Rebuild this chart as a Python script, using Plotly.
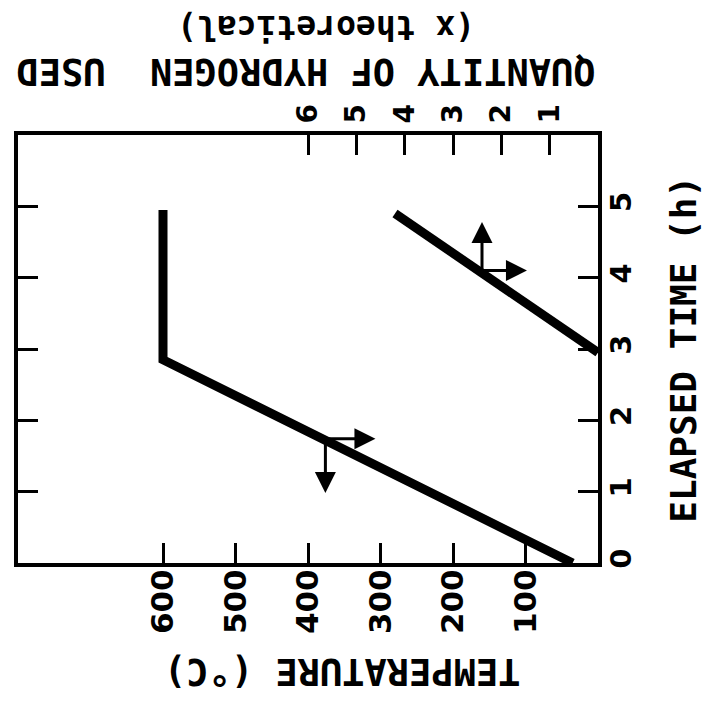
import plotly.graph_objects as go

# Reactor heat-up schedule: temperature and cumulative hydrogen use vs elapsed time
time_temp = [0.0, 2.85, 4.95]      # h
temperature = [35, 600, 600]       # deg C

time_h2 = [2.95, 4.9]              # h
hydrogen_used = [0.0, 4.2]         # x theoretical

temp_ticks = [100, 200, 300, 400, 500, 600]
h2_ticks = [1, 2, 3, 4, 5, 6]
time_ticks = [0, 1, 2, 3, 4, 5]

BLACK = "black"
TICK_FONT = dict(family="DejaVu Sans", size=31, color=BLACK, weight="bold")
TITLE_FONT = dict(family="DejaVu Sans Mono", size=37, color=BLACK, weight="bold")

fig = go.Figure()

fig.add_trace(go.Scatter(
    x=temperature, y=time_temp, xaxis="x", yaxis="y",
    mode="lines", line=dict(color=BLACK, width=9), hoverinfo="skip",
))
fig.add_trace(go.Scatter(
    x=hydrogen_used, y=time_h2, xaxis="x2", yaxis="y",
    mode="lines", line=dict(color=BLACK, width=9), hoverinfo="skip",
))

axis_common = dict(
    showgrid=False, zeroline=False, showline=True, linewidth=4, linecolor=BLACK,
    ticks="inside", ticklen=20, tickwidth=3, tickcolor=BLACK, tickangle=-90,
)

fig.update_layout(
    width=706, height=705, autosize=False,
    margin=dict(l=18, r=108, t=135, b=142, pad=0),
    plot_bgcolor="white", paper_bgcolor="white", showlegend=False,
    xaxis=dict(
        range=[800, 0], tickvals=temp_ticks, ticktext=[str(v) for v in temp_ticks],
        mirror=True, tickfont=TICK_FONT, ticklabelstandoff=-10, **axis_common,
    ),
    xaxis2=dict(
        range=[12, 0], tickvals=h2_ticks, ticktext=[str(v) for v in h2_ticks],
        overlaying="x", side="top", anchor="y",
        tickfont=dict(TICK_FONT, size=28), ticklabelstandoff=2, **axis_common,
    ),
    yaxis=dict(
        range=[0, 6], tickvals=time_ticks, ticktext=[str(v) for v in time_ticks],
        side="right", mirror="ticks", tickfont=dict(TICK_FONT, size=29),
        ticklabelstandoff=-6, **axis_common,
    ),
)

# Axis titles, set in the same rotated frame as the plot
title_pos = dict(xref="paper", yref="paper", xanchor="center", yanchor="middle",
                 showarrow=False)
fig.add_annotation(text="ELAPSED TIME (h)", x=1.146, y=0.5, textangle=-90,
                   font=dict(TITLE_FONT, size=36), **title_pos)
fig.add_annotation(text="TEMPERATURE (°C)", x=0.559, y=-0.255, textangle=180,
                   font=TITLE_FONT, **title_pos)
fig.add_annotation(text="QUANTITY OF HYDROGEN\u00a0\u00a0USED", x=0.497, y=1.150,
                   textangle=180, font=TITLE_FONT, **title_pos)
fig.add_annotation(text="(x theoretical)", x=0.532, y=1.250, textangle=180,
                   font=dict(TITLE_FONT, size=33), **title_pos)

# Arrows pointing each curve to its own axis
arrow_style = dict(showarrow=True, arrowhead=2, arrowsize=1.4, arrowwidth=3,
                   arrowcolor=BLACK, text="")
temp_origin = (376, 1.742)
fig.add_annotation(x=376, y=0.98, ax=temp_origin[0], ay=temp_origin[1],
                   xref="x", yref="y", axref="x", ayref="y", **arrow_style)
fig.add_annotation(x=307, y=1.742, ax=temp_origin[0], ay=temp_origin[1],
                   xref="x", yref="y", axref="x", ayref="y", **arrow_style)
h2_origin = (2.40, 4.10)
fig.add_annotation(x=2.40, y=4.78, ax=h2_origin[0], ay=h2_origin[1],
                   xref="x2", yref="y", axref="x2", ayref="y", **arrow_style)
fig.add_annotation(x=1.47, y=4.10, ax=h2_origin[0], ay=h2_origin[1],
                   xref="x2", yref="y", axref="x2", ayref="y", **arrow_style)

fig.write_html("out.html")
